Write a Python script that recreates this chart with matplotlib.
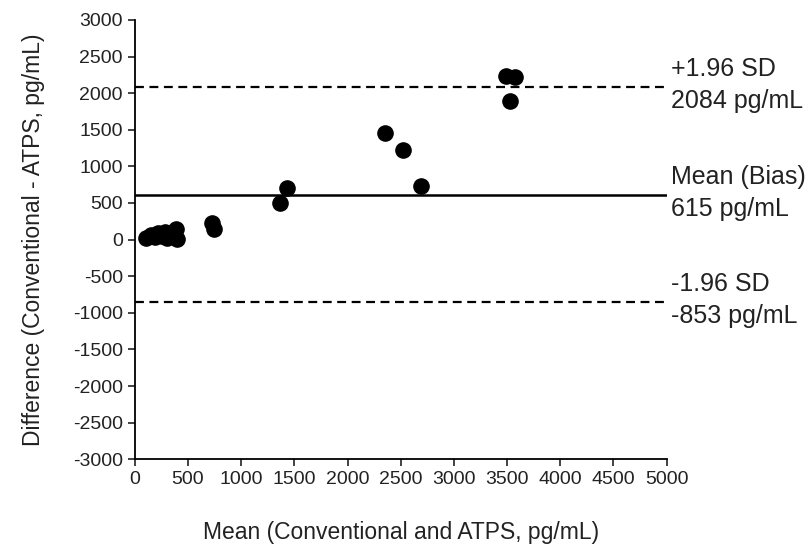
import matplotlib
matplotlib.use("Agg")
import matplotlib.pyplot as plt
import matplotlib.transforms as mtransforms

plt.rcParams['font.family'] = ['Liberation Sans', 'DejaVu Sans']
plt.rcParams['axes.unicode_minus'] = False

# mean of the two methods (pg/mL)
media = [110, 150, 190, 220, 260, 280, 300, 390, 400, 730, 740,
         1363, 1432, 2350, 2522, 2694, 3490, 3570, 3530]
# difference conventional - ATPS (pg/mL)
diferenca = [20, 60, 30, 90, 50, 110, 20, 150, 10, 230, 140,
             496, 700, 1460, 1224, 732, 2240, 2220, 1890]

vies = 615
limSup = 2084
limInf = -853

fig = plt.figure(figsize=(8.12, 5.54), dpi=100)
ax = fig.add_axes([0.166, 0.171, 0.655, 0.793])

ax.scatter(media, diferenca, s=120, color='black', zorder=3)
ax.axhline(y=limSup, color='black', linestyle='--', linewidth=1.6, dashes=(4, 2.5))
ax.axhline(y=vies, color='black', linewidth=1.8)
ax.axhline(y=limInf, color='black', linestyle='--', linewidth=1.6, dashes=(4, 2.5))

ax.set_xlim(0, 5000)
ax.set_ylim(-3000, 3000)
ax.set_xticks(range(0, 5001, 500))
ax.set_yticks(range(-3000, 3001, 500))
ax.tick_params(direction='out', labelsize=14, length=5, width=1.2, colors='#222222')
ax.spines['top'].set_visible(False)
ax.spines['right'].set_visible(False)
ax.spines['left'].set_linewidth(1.3)
ax.spines['bottom'].set_linewidth(1.3)

ax.set_xlabel('Mean (Conventional and ATPS, pg/mL)', fontsize=16.5, labelpad=24, color='#222222')
ax.set_ylabel('Difference (Conventional - ATPS, pg/mL)', fontsize=16.5, labelpad=20, color='#222222')

trans = mtransforms.blended_transform_factory(ax.transAxes, ax.transData)
textos = [(limSup, '+1.96 SD', '2084 pg/mL'),
          (vies, 'Mean (Bias)', '615 pg/mL'),
          (limInf, '-1.96 SD', '-853 pg/mL')]
for y, cima, baixo in textos:
    ax.text(1.008, y + 80, cima, transform=trans, fontsize=18, va='bottom', ha='left', color='#222222')
    ax.text(1.008, y - 30, baixo, transform=trans, fontsize=18, va='top', ha='left', color='#222222')

fig.savefig('out.png', dpi=100)
